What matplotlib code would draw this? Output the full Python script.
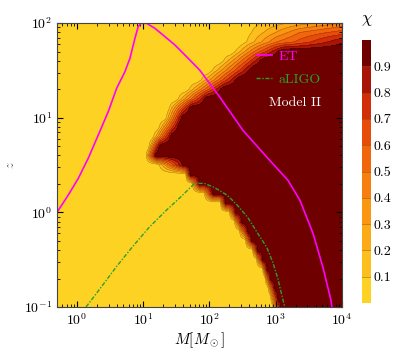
import numpy as np
import matplotlib
matplotlib.use('Agg')
import matplotlib.pyplot as plt
from matplotlib.colors import ListedColormap
from matplotlib.lines import Line2D

plt.rcParams['font.family'] = 'serif'
plt.rcParams['font.serif'] = ['cmr10', 'DejaVu Serif']
plt.rcParams['mathtext.fontset'] = 'cm'
plt.rcParams['axes.unicode_minus'] = False
plt.rcParams['axes.formatter.use_mathtext'] = True

# redshift rows where the edges of the chi map were read
z_rows = [0.1, 0.126, 0.158, 0.2, 0.251, 0.316, 0.398, 0.501, 0.631, 0.794,
          1.0, 1.26, 1.58, 2.0, 2.51, 3.16, 3.98, 5.01, 6.31, 7.94,
          10.0, 12.6, 15.8, 20.0, 25.1, 31.6, 39.8, 50.1, 63.1, 79.4, 100.0]
# mass where chi = 0.1, 0.5, 0.9 along each row
m_chi01 = [901, 840, 770, 693, 635, 515, 448, 351, 285, 239,
           201, 147, 84, 55, 44, 17.5, 11.1, 12.3, 14.4, 17.5,
           22.3, 24.8, 33.9, 49.8, 75.6, 111, 163, 248, 364, 433, 614]
m_chi05 = [1035, 949, 862, 763, 687, 572, 489, 390, 327, 270,
           223, 160, 96.5, 62.4, 47.6, 26.1, 13.0, 14.7, 19.2, 23.9,
           29.0, 35.1, 53.4, 85.5, 137, 208, 305, 481, 1035, 2310, 25600]
m_chi09 = [1191, 1072, 966, 840, 743, 635, 534, 433, 377, 305,
           248, 175, 111, 70.5, 51.5, 39, 15.2, 17.5, 25.6, 32.7,
           37.6, 49.8, 84, 147, 248, 390, 572, 1072, 11100, 115000, 1.0e6]

# detector horizons
et_m = [0.5, 0.739, 1.05, 1.48, 2.10, 2.97, 3.97, 5.30, 6.31, 7.50, 8.41,
        9.25, 11.3, 15.0, 21.3, 30.1, 42.6, 71.8, 144, 320, 738, 1528,
        2320, 3650, 5160, 6810, 7050]
et_z = [1.0, 1.52, 2.29, 3.72, 6.56, 11.6, 20.4, 30.6, 42.4, 68.9, 91.6,
        99.2, 99.2, 87.9, 71.8, 58.5, 45.9, 31.6, 16.4, 7.35, 3.81, 2.18,
        1.34, 0.6, 0.262, 0.118, 0.1]
aligo_m = [1.37, 2.15, 3.9, 6.81, 12.3, 22.3, 39.0, 59.3, 84, 119, 187,
           266, 377, 534, 731, 901, 1072, 1233, 1369]
aligo_z = [0.1, 0.151, 0.264, 0.428, 0.695, 1.05, 1.51, 2.02, 2.02, 1.83,
           1.51, 1.18, 0.886, 0.601, 0.428, 0.298, 0.202, 0.134, 0.1]

levels = np.linspace(0, 1, 11)
cb_ticks = [0.1, 0.2, 0.3, 0.4, 0.5, 0.6, 0.7, 0.8, 0.9]
colors = ['#fdd223', '#fdbf1d', '#fcab16', '#fa9612', '#f77f0f',
          '#f1660d', '#e64d0b', '#d22e08', '#a81405', '#6e0000']
cmap = ListedColormap(colors)

# build the chi map row by row from the read edges
lm = np.linspace(np.log10(0.45), np.log10(1.2e4), 700)
chi = np.zeros((len(z_rows), len(lm)))
for i in range(len(z_rows)):
    lo, mid, hi = np.log10([m_chi01[i], m_chi05[i], m_chi09[i]])
    chi[i] = np.interp(lm, [lo - (mid - lo) / 4, lo, mid, hi, hi + (hi - mid) / 4],
                       [0, 0.1, 0.5, 0.9, 1.0])
chi = np.clip(chi, 0, 0.999)

fig = plt.figure(figsize=(3.98, 3.55), dpi=100)
ax = fig.add_axes([0.1432, 0.1352, 0.7161, 0.8])
cax = fig.add_axes([0.9095, 0.1465, 0.0226, 0.7408])

cs = ax.contourf(10 ** lm, z_rows, chi, levels=levels, cmap=cmap)
ax.contour(10 ** lm, z_rows, chi, levels=levels[1:-1], colors='k',
           linewidths=0.4, alpha=0.3)

ax.plot(et_m, et_z, color='#ff00ff', lw=1.2)
ax.plot(aligo_m, aligo_z, color='#2ca02c', lw=1.0, ls=(0, (3, 1.2, 1, 1.2)))

ax.set_xscale('log')
ax.set_yscale('log')
ax.set_xlim(0.5, 1e4)
ax.set_ylim(0.1, 100)
ax.set_xlabel(r'$M[M_\odot]$', fontsize=11, labelpad=2)
ax.set_ylabel(r'$z$', fontsize=9, color='#555555', labelpad=5)
ax.tick_params(which='both', direction='in', top=True, right=True, labelsize=10)
ax.tick_params(which='major', length=4)
ax.tick_params(which='minor', length=2)
for s in ax.spines.values():
    s.set_color('#444444')

handles = [Line2D([], [], color='#ff00ff', lw=1.2),
           Line2D([], [], color='#2ca02c', lw=1.0, ls=(0, (3, 1.2, 1, 1.2)))]
ax.legend(handles, ['ET', 'aLIGO'], loc='upper left', bbox_to_anchor=(0.70, 0.903),
          frameon=False, labelcolor='linecolor', handlelength=1.1,
          handletextpad=0.5, labelspacing=0.7, borderpad=0, borderaxespad=0,
          fontsize=10)
ax.text(0.835, 0.72, 'Model II', color='white', fontsize=10,
        ha='center', va='center', transform=ax.transAxes)

cbar = fig.colorbar(cs, cax=cax, ticks=cb_ticks)
cbar.outline.set_visible(False)
cbar.ax.set_yticklabels([f'{t:.1f}' for t in cb_ticks])
cbar.ax.tick_params(length=0, labelsize=10, pad=2)
for lv in levels[1:-1]:
    cax.axhline(lv, color='#7a4a00', lw=0.6, alpha=0.5)
cax.set_title(r'$\chi$', fontsize=12, pad=12)

fig.savefig('out.png', dpi=100)
